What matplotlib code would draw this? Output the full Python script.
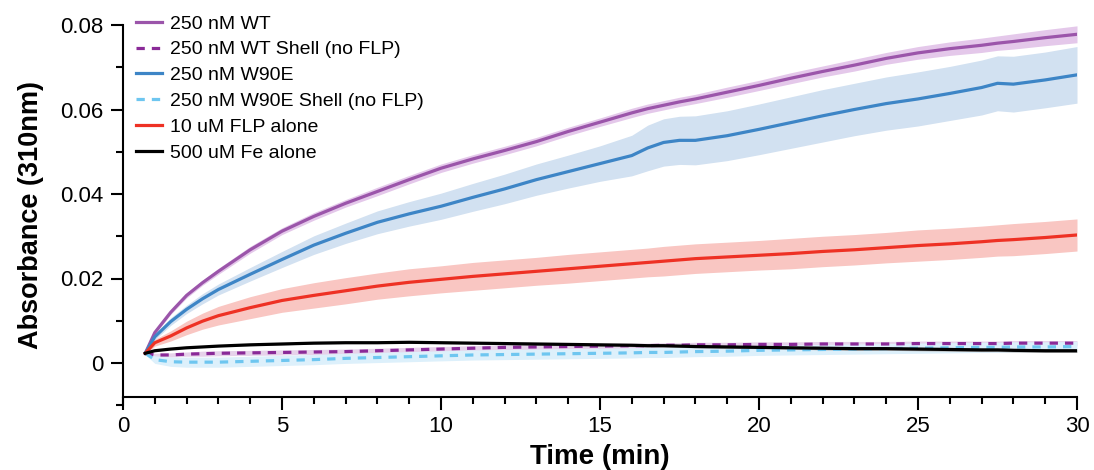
import numpy as np
import matplotlib.pyplot as plt
from matplotlib.ticker import MultipleLocator, FixedLocator, FuncFormatter

plt.rcParams['font.family'] = ['Liberation Sans', 'DejaVu Sans']

# time points (min)
t = [0.7, 1, 1.5, 2, 2.5, 3, 4, 5, 6, 7, 8, 9, 10, 11, 12, 13, 14, 15, 16, 16.5,
     17, 17.5, 18, 19, 20, 21, 22, 23, 24, 25, 26, 27, 27.5, 28, 29, 30]

# mean absorbance at 310 nm, with sd bands
wt = [0.0023, 0.0072, 0.0120, 0.0160, 0.0190, 0.0217, 0.0268, 0.0312, 0.0347,
      0.0378, 0.0406, 0.0434, 0.0461, 0.0483, 0.0503, 0.0524, 0.0548, 0.0570,
      0.0592, 0.0602, 0.0610, 0.0618, 0.0625, 0.0641, 0.0657, 0.0674, 0.0690,
      0.0705, 0.0721, 0.0734, 0.0744, 0.0752, 0.0757, 0.0761, 0.0770, 0.0778]
wt_sd = [0.0003, 0.0004, 0.0005, 0.0006, 0.0006, 0.0007, 0.0008, 0.0008, 0.0009,
         0.0009, 0.0010, 0.0010, 0.0010, 0.0010, 0.0010, 0.0010, 0.0010, 0.0010,
         0.0011, 0.0011, 0.0011, 0.0011, 0.0011, 0.0012, 0.0012, 0.0013, 0.0013,
         0.0014, 0.0014, 0.0015, 0.0016, 0.0017, 0.0017, 0.0018, 0.0019, 0.0020]

wt_shell = [0.0023, 0.0019, 0.0019, 0.0021, 0.0022, 0.0023, 0.0024, 0.0025, 0.0026,
            0.0027, 0.0029, 0.0031, 0.0033, 0.0035, 0.0037, 0.0038, 0.0039, 0.0040,
            0.0041, 0.0041, 0.0042, 0.0042, 0.0043, 0.0043, 0.0044, 0.0044, 0.0045,
            0.0045, 0.0045, 0.0046, 0.0046, 0.0046, 0.0046, 0.0047, 0.0047, 0.0047]
wt_shell_sd = [0.0002, 0.0004, 0.0005, 0.0005, 0.0006, 0.0006, 0.0006, 0.0006, 0.0006,
               0.0006, 0.0006, 0.0006, 0.0006, 0.0006, 0.0006, 0.0006, 0.0006, 0.0006,
               0.0006, 0.0006, 0.0006, 0.0006, 0.0006, 0.0006, 0.0006, 0.0006, 0.0006,
               0.0006, 0.0006, 0.0006, 0.0006, 0.0006, 0.0006, 0.0006, 0.0006, 0.0006]

w90e = [0.0023, 0.0062, 0.0098, 0.0127, 0.0152, 0.0174, 0.0210, 0.0245, 0.0279,
        0.0307, 0.0333, 0.0353, 0.0371, 0.0392, 0.0412, 0.0434, 0.0453, 0.0472,
        0.0491, 0.0509, 0.0522, 0.0527, 0.0527, 0.0538, 0.0553, 0.0569, 0.0585,
        0.0600, 0.0614, 0.0625, 0.0638, 0.0652, 0.0662, 0.0660, 0.0670, 0.0682]
w90e_sd = [0.0003, 0.0007, 0.0009, 0.0010, 0.0012, 0.0013, 0.0016, 0.0019, 0.0022,
           0.0024, 0.0027, 0.0029, 0.0031, 0.0033, 0.0035, 0.0037, 0.0039, 0.0042,
           0.0048, 0.0054, 0.0056, 0.0057, 0.0058, 0.0059, 0.0060, 0.0061, 0.0062,
           0.0062, 0.0063, 0.0064, 0.0064, 0.0065, 0.0065, 0.0066, 0.0066, 0.0067]

w90e_shell = [0.0023, 0.0008, 0.0003, 0.0002, 0.0002, 0.0002, 0.0004, 0.0006, 0.0008,
              0.0011, 0.0013, 0.0015, 0.0017, 0.0019, 0.0020, 0.0021, 0.0022, 0.0023,
              0.0024, 0.0025, 0.0025, 0.0026, 0.0027, 0.0028, 0.0030, 0.0031, 0.0032,
              0.0033, 0.0034, 0.0035, 0.0036, 0.0037, 0.0037, 0.0038, 0.0038, 0.0039]
w90e_shell_sd = [0.0003, 0.0009, 0.0011, 0.0012, 0.0012, 0.0012, 0.0012, 0.0012, 0.0012,
                 0.0012, 0.0012, 0.0012, 0.0012, 0.0012, 0.0012, 0.0012, 0.0012, 0.0012,
                 0.0012, 0.0012, 0.0012, 0.0012, 0.0012, 0.0012, 0.0012, 0.0012, 0.0012,
                 0.0012, 0.0012, 0.0012, 0.0012, 0.0012, 0.0012, 0.0012, 0.0012, 0.0012]

flp = [0.0023, 0.0048, 0.0064, 0.0083, 0.0099, 0.0112, 0.0131, 0.0148, 0.0160,
       0.0171, 0.0182, 0.0191, 0.0198, 0.0205, 0.0211, 0.0217, 0.0223, 0.0229,
       0.0235, 0.0238, 0.0241, 0.0244, 0.0247, 0.0251, 0.0255, 0.0259, 0.0264,
       0.0268, 0.0273, 0.0278, 0.0282, 0.0287, 0.0290, 0.0292, 0.0297, 0.0303]
flp_sd = [0.0003, 0.0008, 0.0012, 0.0016, 0.0019, 0.0022, 0.0026, 0.0028, 0.0030,
          0.0031, 0.0031, 0.0032, 0.0032, 0.0033, 0.0033, 0.0033, 0.0034, 0.0034,
          0.0034, 0.0034, 0.0035, 0.0035, 0.0035, 0.0035, 0.0035, 0.0036, 0.0036,
          0.0036, 0.0036, 0.0037, 0.0037, 0.0037, 0.0037, 0.0038, 0.0038, 0.0038]

fe = [0.0023, 0.0029, 0.0033, 0.0036, 0.0038, 0.0040, 0.0043, 0.0045, 0.0047,
      0.0048, 0.0048, 0.0049, 0.0048, 0.0047, 0.0046, 0.0045, 0.0044, 0.0043,
      0.0042, 0.0041, 0.0041, 0.0040, 0.0039, 0.0038, 0.0037, 0.0036, 0.0035,
      0.0034, 0.0034, 0.0033, 0.0032, 0.0031, 0.0031, 0.0030, 0.0029, 0.0029]
fe_sd = [0.0001, 0.0001, 0.0001, 0.0001, 0.0001, 0.0001, 0.0002, 0.0002, 0.0002,
         0.0002, 0.0002, 0.0002, 0.0002, 0.0002, 0.0002, 0.0003, 0.0003, 0.0003,
         0.0003, 0.0003, 0.0003, 0.0003, 0.0003, 0.0003, 0.0003, 0.0003, 0.0004,
         0.0004, 0.0004, 0.0004, 0.0004, 0.0004, 0.0004, 0.0004, 0.0004, 0.0004]

series = [
    # label, mean, sd, line colour, band colour, dashed
    ('250 nM WT', wt, wt_sd, '#9b55aa', '#e4c8ea', False),
    ('250 nM WT Shell (no FLP)', wt_shell, wt_shell_sd, '#8a2a98', '#e6d2ea', True),
    ('250 nM W90E', w90e, w90e_sd, '#3d85c6', '#d2e1f1', False),
    ('250 nM W90E Shell (no FLP)', w90e_shell, w90e_shell_sd, '#6ec6f0', '#ddf0fb', True),
    ('10 uM FLP alone', flp, flp_sd, '#ee3124', '#f9c6c2', False),
    ('500 uM Fe alone', fe, fe_sd, '#000000', '#b0b0b0', False),
]

fig = plt.figure(figsize=(10.94, 4.70), dpi=100)
ax = fig.add_axes([123 / 1094, 1 - 405.25 / 470, 954 / 1094, 380.25 / 470])

tt = np.array(t)
for label, m, sd, c, bc, dashed in series:
    m = np.array(m)
    sd = np.array(sd)
    ax.fill_between(tt, m - sd, m + sd, color=bc, lw=0, zorder=1)

for label, m, sd, c, bc, dashed in series:
    if dashed:
        ax.plot(tt, m, color=c, lw=2.3, dashes=(2.6, 2.2), label=label, zorder=3)
    else:
        ax.plot(tt, m, color=c, lw=2.3, label=label, zorder=3)

ax.set_xlim(0, 30)
ax.set_ylim(-0.01, 0.08)
ax.spines['top'].set_visible(False)
ax.spines['right'].set_visible(False)
ax.spines['bottom'].set_position(('data', -0.008))
ax.spines['left'].set_linewidth(1.5)
ax.spines['bottom'].set_linewidth(1.5)

ax.xaxis.set_major_locator(MultipleLocator(5))
ax.xaxis.set_minor_locator(MultipleLocator(1))
ax.yaxis.set_major_locator(FixedLocator([0, 0.02, 0.04, 0.06, 0.08]))
ax.yaxis.set_minor_locator(FixedLocator([-0.01, 0.01, 0.03, 0.05, 0.07]))
ax.yaxis.set_major_formatter(FuncFormatter(lambda v, p: '0' if abs(v) < 1e-9 else f'{v:.2f}'))
ax.tick_params(which='major', direction='out', length=9, width=1.5, labelsize=16, pad=5)
ax.tick_params(which='minor', direction='out', length=5, width=1.5)

ax.set_xlabel('Time (min)', fontsize=20, fontweight='bold', labelpad=5)
ax.set_ylabel('Absorbance (310nm)', fontsize=19.5, fontweight='bold', labelpad=12)

ax.legend(loc='upper left', bbox_to_anchor=(136 / 1094, 1 - 15 / 470),
          bbox_transform=fig.transFigure, frameon=False, fontsize=14,
          handlelength=1.35, handletextpad=0.4, labelspacing=0.42,
          borderpad=0, borderaxespad=0)

fig.savefig('out.png', dpi=100)
